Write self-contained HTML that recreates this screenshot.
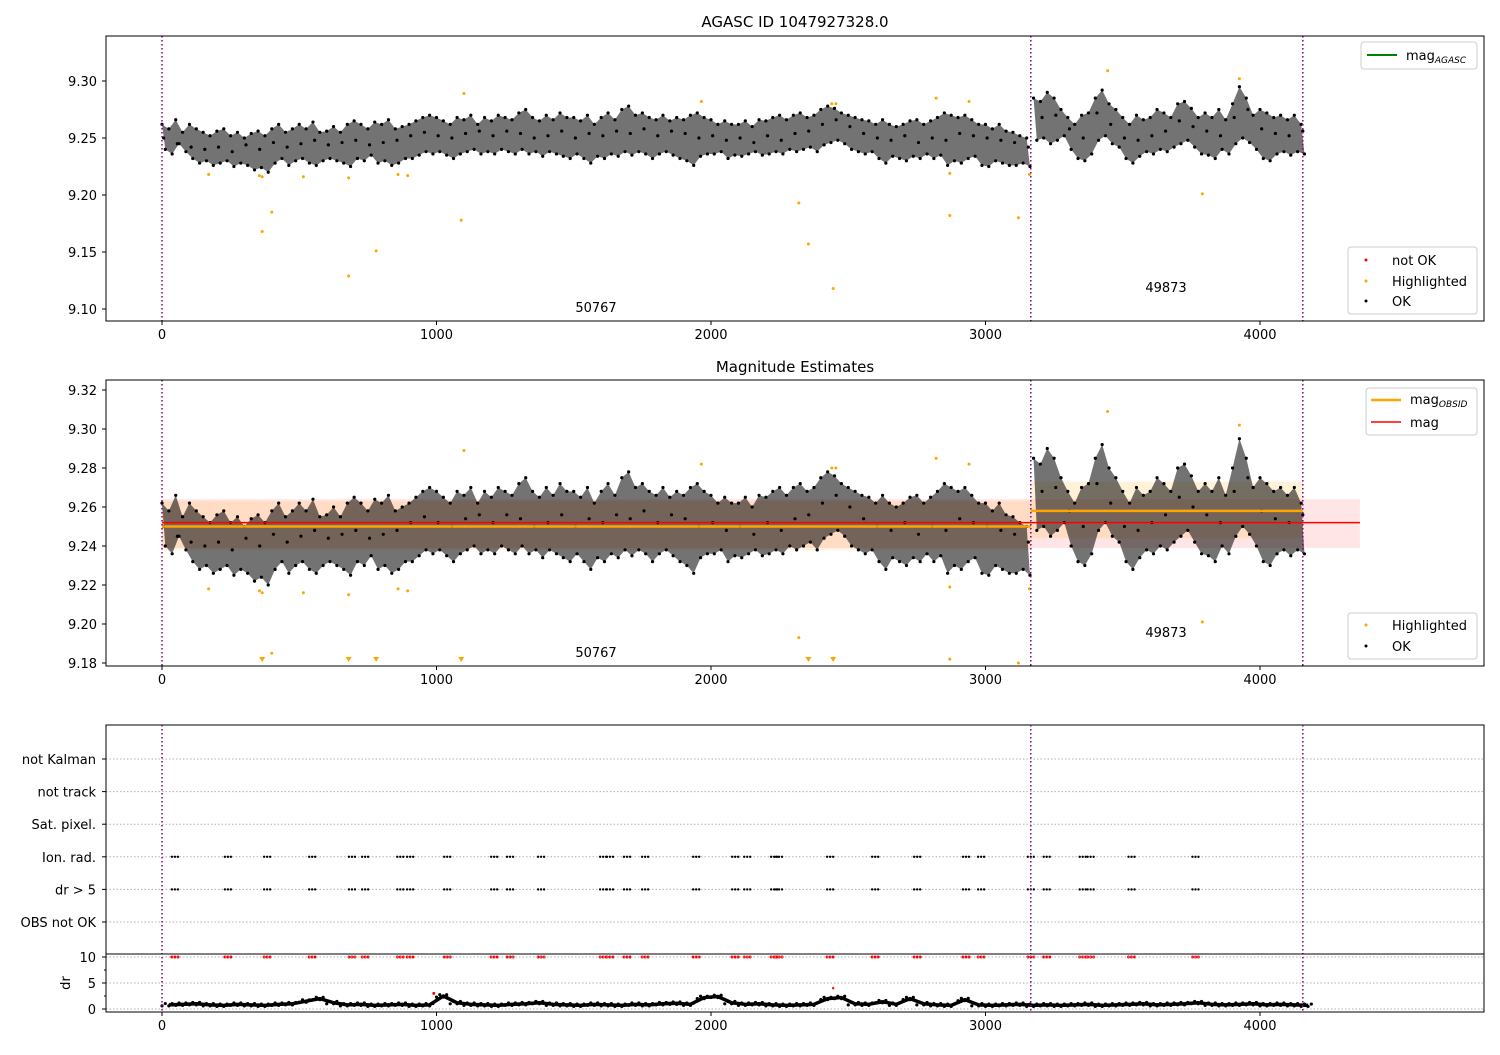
<!DOCTYPE html>
<html><head><meta charset="utf-8"><style>
body{margin:0;background:#fff}
svg text{font-family:"DejaVu Sans","Liberation Sans",sans-serif;fill:#000}
</style></head><body>
<svg id="chart" width="1500" height="1050" xmlns="http://www.w3.org/2000/svg"></svg>
<script>
// ---------- data ----------
const magUpper=[9.262,9.258,9.266,9.255,9.262,9.258,9.255,9.252,9.256,9.258,9.252,9.255,9.250,9.254,9.256,9.252,9.258,9.262,9.255,9.258,9.262,9.258,9.264,9.255,9.256,9.260,9.255,9.262,9.265,9.262,9.258,9.264,9.262,9.266,9.258,9.260,9.262,9.265,9.268,9.270,9.268,9.265,9.262,9.268,9.266,9.270,9.262,9.268,9.265,9.270,9.268,9.266,9.272,9.275,9.268,9.265,9.270,9.266,9.272,9.268,9.268,9.265,9.270,9.262,9.268,9.272,9.266,9.275,9.278,9.270,9.272,9.268,9.266,9.270,9.265,9.268,9.266,9.270,9.272,9.268,9.266,9.262,9.265,9.262,9.262,9.265,9.260,9.266,9.265,9.268,9.270,9.266,9.270,9.272,9.268,9.270,9.275,9.278,9.276,9.272,9.270,9.268,9.266,9.265,9.262,9.266,9.262,9.260,9.262,9.265,9.266,9.262,9.265,9.268,9.272,9.270,9.268,9.270,9.266,9.262,9.262,9.258,9.262,9.256,9.255,9.252,9.250,9.285,9.282,9.290,9.285,9.275,9.268,9.262,9.270,9.272,9.285,9.292,9.280,9.275,9.268,9.262,9.270,9.266,9.268,9.275,9.272,9.268,9.280,9.282,9.276,9.268,9.272,9.268,9.275,9.266,9.280,9.295,9.285,9.270,9.275,9.272,9.268,9.270,9.266,9.270,9.262];
const magLower=[9.240,9.236,9.245,9.238,9.232,9.228,9.230,9.226,9.228,9.230,9.225,9.228,9.226,9.222,9.224,9.220,9.228,9.232,9.226,9.230,9.232,9.228,9.226,9.230,9.232,9.230,9.228,9.225,9.232,9.230,9.235,9.228,9.230,9.226,9.228,9.232,9.232,9.235,9.238,9.236,9.238,9.235,9.232,9.236,9.238,9.240,9.236,9.238,9.236,9.240,9.238,9.236,9.240,9.236,9.238,9.234,9.238,9.236,9.234,9.232,9.236,9.232,9.228,9.234,9.232,9.236,9.234,9.238,9.235,9.238,9.236,9.232,9.236,9.238,9.235,9.232,9.230,9.226,9.234,9.236,9.236,9.238,9.232,9.235,9.234,9.236,9.238,9.235,9.236,9.238,9.236,9.240,9.238,9.240,9.242,9.238,9.244,9.246,9.248,9.245,9.240,9.238,9.236,9.238,9.232,9.228,9.234,9.232,9.230,9.234,9.232,9.236,9.232,9.235,9.226,9.230,9.228,9.232,9.234,9.226,9.225,9.230,9.228,9.226,9.226,9.228,9.225,9.248,9.250,9.245,9.248,9.252,9.240,9.232,9.230,9.236,9.248,9.252,9.245,9.242,9.232,9.228,9.234,9.238,9.236,9.240,9.238,9.242,9.245,9.248,9.242,9.236,9.235,9.232,9.240,9.236,9.245,9.250,9.246,9.240,9.232,9.230,9.236,9.238,9.235,9.238,9.236];
const magMid=[9.250,9.245,9.242,9.240,9.242,9.238,9.244,9.240,9.246,9.242,9.245,9.248,9.244,9.246,9.248,9.244,9.246,9.248,9.252,9.255,9.252,9.250,9.254,9.256,9.252,9.256,9.254,9.250,9.252,9.256,9.250,9.254,9.252,9.256,9.254,9.258,9.252,9.256,9.254,9.250,9.252,9.248,9.250,9.246,9.252,9.248,9.254,9.256,9.262,9.266,9.260,9.254,9.250,9.248,9.252,9.246,9.250,9.248,9.254,9.252,9.250,9.248,9.246,9.242,9.268,9.270,9.258,9.250,9.272,9.262,9.250,9.248,9.252,9.256,9.265,9.260,9.256,9.252,9.268,9.275,9.258,9.254,9.252,9.256];
const hlX=[170,355,365,365,400,515,680,680,780,860,895,1090,1100,1965,2320,2355,2440,2455,2445,2820,2870,2870,2940,3120,3160,3445,3790,3925];
const hlY=[9.218,9.217,9.216,9.168,9.185,9.216,9.215,9.129,9.151,9.218,9.217,9.178,9.289,9.282,9.193,9.157,9.28,9.28,9.118,9.285,9.219,9.182,9.282,9.18,9.218,9.309,9.201,9.302];
const eventX=[47,240,383,547,692,740,868,904,1039,1210,1268,1381,1607,1632,1694,1760,1946,2088,2132,2230,2248,2434,2598,2751,2929,2984,3165,3223,3354,3383,3532,3765];
const drVals=[0.8,0.9,1.0,0.8,0.7,0.9,0.8,0.7,0.9,1.0,1.5,2.0,1.2,0.8,0.9,0.7,0.8,0.9,0.7,0.8,2.5,1.2,0.9,0.8,0.7,0.9,1.0,1.2,0.9,0.8,0.7,0.9,0.8,0.7,0.9,0.8,1.0,1.1,0.9,2.2,2.4,1.2,0.9,1.0,0.8,0.7,0.8,0.9,2.0,2.2,1.0,0.9,1.4,0.9,2.0,1.0,0.8,0.7,1.8,0.8,0.7,0.8,0.9,0.7,0.8,0.7,0.8,0.9,0.7,0.8,0.9,1.0,0.8,0.9,1.0,1.2,0.9,0.8,0.9,1.0,0.8,0.9,0.8,0.7];
const obsBounds=[0,3165,4156];
const obsLabels=["50767","49873"];
const obsMag=[9.250,9.258];
const obsLo=[9.238,9.244];
const obsHi=[9.263,9.273];
const magMean=9.252, magLo=9.239, magHi=9.264;
const xTicks=[0,1000,2000,3000,4000];
const y1Ticks=[9.10,9.15,9.20,9.25,9.30];
const y2Ticks=[9.18,9.20,9.22,9.24,9.26,9.28,9.30,9.32];
const cats=["OBS not OK","dr > 5","Ion. rad.","Sat. pixel.","not track","not Kalman"];
const drTicks=[0,5,10];

// ---------- helpers ----------
const S=document.getElementById('chart');const NS='http://www.w3.org/2000/svg';
function mk(t,a,p){const e=document.createElementNS(NS,t);for(const k in a)e.setAttribute(k,a[k]);(p||S).appendChild(e);return e;}
const X=v=>162+v*0.2745;
const Y1=v=>81+(9.30-v)*1140;
const Y2=v=>390+(9.32-v)*1950;
const Ycat=i=>922-i*32.6;
const Ydr=v=>1009-v*5.2;
const L=106,R=1484,FS=13;

function xAxis(top,bot){
  xTicks.forEach(t=>{mk('line',{x1:X(t),x2:X(t),y1:bot,y2:bot+4,stroke:'#000'});
    const e=mk('text',{x:X(t),y:bot+18,'font-size':FS,'text-anchor':'middle'});e.textContent=t;
    });
}
function vlines(top,bot){obsBounds.forEach(b=>mk('line',{x1:X(b),x2:X(b),y1:top,y2:bot,stroke:'#800080','stroke-width':1.5,'stroke-dasharray':'1.5,2.5'}));}
function dot(x,y,r,c,p){const e=mk('circle',{cx:x,cy:y,r:r,fill:c},p);return e;}
function envelope(Y,p){
  for(let s=0;s<2;s++){
    const inSeg=x=>x>=obsBounds[s]&&x<obsBounds[s+1];
    let up=[],lo=[];
    magUpper.forEach((v,i)=>{if(inSeg(i*25))up.push(X(i*25)+','+Y(v));});
    magLower.forEach((v,i)=>{if(inSeg(i*25))lo.push(X(i*25+12)+','+Y(v));});
    const e=mk('polygon',{points:up.concat(lo.reverse()).join(' '),fill:'rgba(0,0,0,0.55)'},p);
    
  }
}
function cloud(Y,p){
  envelope(Y,p);
  magUpper.forEach((v,i)=>{const e=dot(X(i*25),Y(v),1.6,'#000',p);});
  magLower.forEach((v,i)=>{const e=dot(X(i*25+12),Y(v),1.6,'#000',p);});
  magMid.forEach((v,i)=>{const e=dot(X(i*50+6),Y(v),1.6,'#000',p);});
}

// ---------- panel 1 ----------
let t=mk('text',{x:795,y:27,'font-size':15,'text-anchor':'middle'});t.textContent='AGASC ID 1047927328.0';

y1Ticks.forEach(v=>{mk('line',{x1:L-4,x2:L,y1:Y1(v),y2:Y1(v),stroke:'#000'});const e=mk('text',{x:L-9,y:Y1(v)+5,'font-size':FS,'text-anchor':'end'});e.textContent=v.toFixed(2);
  });
xAxis(36,321);
const clip1=mk('clipPath',{id:'c1'});mk('rect',{x:L,y:36,width:R-L,height:285},clip1);
const d1=mk('g',{'clip-path':'url(#c1)'});
cloud(Y1,d1);
hlX.forEach((x,i)=>{const e=dot(X(x),Y1(hlY[i]),1.5,'orange',d1);});
vlines(36,321);
[[596,307],[1166,287]].forEach((p,i)=>{const e=mk('text',{x:p[0],y:p[1]+5,'font-size':FS,'text-anchor':'middle'});e.textContent=obsLabels[i];});
mk('rect',{x:L,y:36,width:R-L,height:285,fill:'none',stroke:'#000'});

let lg=mk('g',{});
mk('rect',{x:1361,y:42,width:116,height:27,rx:3,fill:'#fff',stroke:'#ccc'},lg);
mk('line',{x1:1367,x2:1397,y1:55,y2:55,stroke:'green','stroke-width':2},lg);
let e=mk('text',{x:1406,y:60,'font-size':FS},lg);e.innerHTML='mag<tspan font-size="9" font-style="italic" dy="3">AGASC</tspan>';
lg=mk('g',{});
mk('rect',{x:1348,y:247,width:129,height:67,rx:3,fill:'#fff',stroke:'#ccc'},lg);
[['not OK','red',260],['Highlighted','orange',281],['OK','#000',301]].forEach(a=>{dot(1366,a[2],1.5,a[1],lg);const t=mk('text',{x:1392,y:a[2]+5,'font-size':FS},lg);t.textContent=a[0];});

// ---------- panel 2 ----------
t=mk('text',{x:795,y:372,'font-size':15,'text-anchor':'middle'});t.textContent='Magnitude Estimates';

y2Ticks.forEach(v=>{mk('line',{x1:L-4,x2:L,y1:Y2(v),y2:Y2(v),stroke:'#000'});const e=mk('text',{x:L-9,y:Y2(v)+5,'font-size':FS,'text-anchor':'end'});e.textContent=v.toFixed(2);
  });
xAxis(380,666);
const clip2=mk('clipPath',{id:'c2'});mk('rect',{x:L,y:380,width:R-L,height:286},clip2);
const d2=mk('g',{'clip-path':'url(#c2)'});
let rb=mk('rect',{x:X(0),y:Y2(magHi),width:X(4364)-X(0),height:Y2(magLo)-Y2(magHi),fill:'rgba(255,0,0,0.1)'},d2);

for(let i=0;i<2;i++){const e=mk('rect',{x:X(obsBounds[i]),y:Y2(obsHi[i]),width:X(obsBounds[i+1])-X(obsBounds[i]),height:Y2(obsLo[i])-Y2(obsHi[i]),fill:'rgba(255,165,0,0.15)'},d2);
  }
cloud(Y2,d2);
hlX.forEach((x,i)=>{const v=hlY[i];if(v<9.18){const cx=X(x),cy=Y2(9.18)-3;const e=mk('polygon',{points:`${cx-3},${cy-3} ${cx+3},${cy-3} ${cx},${cy+2}`,fill:'orange'},d2);}
  else{const e=dot(X(x),Y2(v),1.5,'orange',d2);}});
for(let i=0;i<2;i++){const e=mk('line',{x1:X(obsBounds[i]),x2:X(obsBounds[i+1]),y1:Y2(obsMag[i]),y2:Y2(obsMag[i]),stroke:'orange','stroke-width':2.5},d2);}
let ml=mk('line',{x1:X(0),x2:X(4364),y1:Y2(magMean),y2:Y2(magMean),stroke:'red','stroke-width':1.5},d2);
vlines(380,666);
[[596,652],[1166,632]].forEach((p,i)=>{const e=mk('text',{x:p[0],y:p[1]+5,'font-size':FS,'text-anchor':'middle'});e.textContent=obsLabels[i];});
mk('rect',{x:L,y:380,width:R-L,height:286,fill:'none',stroke:'#000'});
lg=mk('g',{});
mk('rect',{x:1366,y:388,width:111,height:47,rx:3,fill:'#fff',stroke:'#ccc'},lg);
mk('line',{x1:1371,x2:1401,y1:400,y2:400,stroke:'orange','stroke-width':2.5},lg);
mk('line',{x1:1371,x2:1401,y1:422,y2:422,stroke:'red','stroke-width':1.5},lg);
e=mk('text',{x:1410,y:404,'font-size':FS},lg);e.innerHTML='mag<tspan font-size="9" font-style="italic" dy="3">OBSID</tspan>';
e=mk('text',{x:1410,y:427,'font-size':FS},lg);e.textContent='mag';
lg=mk('g',{});
mk('rect',{x:1348,y:613,width:129,height:46,rx:3,fill:'#fff',stroke:'#ccc'},lg);
[['Highlighted','orange',625],['OK','#000',646]].forEach(a=>{dot(1366,a[2],1.5,a[1],lg);const t=mk('text',{x:1392,y:a[2]+5,'font-size':FS},lg);t.textContent=a[0];});

// ---------- panel 3 ----------
cats.forEach((c,i)=>{mk('line',{x1:L,x2:R,y1:Ycat(i),y2:Ycat(i),stroke:'#b0b0b0','stroke-dasharray':'1.5,2','stroke-width':1});
  mk('line',{x1:L-4,x2:L,y1:Ycat(i),y2:Ycat(i),stroke:'#000'});
  const e=mk('text',{x:L-10,y:Ycat(i)+5,'font-size':FS,'text-anchor':'end'});e.textContent=c;});
eventX.forEach(x=>{[1,2].forEach(row=>{for(let k=0;k<3;k++){const e=dot(X(x)+k*3-3,Ycat(row),1.2,'#000');}});
  for(let k=0;k<3;k++){const e=dot(X(x)+k*3-3,Ydr(10),1.5,'red');}});
mk('rect',{x:L,y:725,width:R-L,height:229,fill:'none',stroke:'#000'});
drTicks.forEach(v=>{mk('line',{x1:L,x2:R,y1:Ydr(v),y2:Ydr(v),stroke:'#b0b0b0','stroke-dasharray':'1.5,2'});mk('line',{x1:L-4,x2:L,y1:Ydr(v),y2:Ydr(v),stroke:'#000'});
  const e=mk('text',{x:L-10,y:Ydr(v)+5,'font-size':FS,'text-anchor':'end'});e.textContent=v;});
[2.5,7.5].forEach(v=>mk('line',{x1:L-2,x2:L,y1:Ydr(v),y2:Ydr(v),stroke:'#000'}));
e=mk('text',{x:70,y:983,'font-size':FS,'text-anchor':'middle',transform:'rotate(-90 70 983)'});e.textContent='dr';
const drLine=mk('polyline',{points:drVals.map((v,i)=>X(i*50+25)+','+Ydr(v)).join(' '),fill:'none',stroke:'#000','stroke-width':3.5,'stroke-linejoin':'round'});

drVals.forEach((v,i)=>{[0,12,25,37].forEach((o,k)=>{const e=dot(X(i*50+o),Ydr(v+(k%2?0.25:-0.2)),1.6,'#000');});});
let rp=dot(X(990),Ydr(3),1.5,'red');
rp=dot(X(2445),Ydr(4),1.2,'red');
vlines(725,1012);
mk('rect',{x:L,y:954,width:R-L,height:58,fill:'none',stroke:'#000'});
xAxis(954,1012);
</script>
</body></html>
